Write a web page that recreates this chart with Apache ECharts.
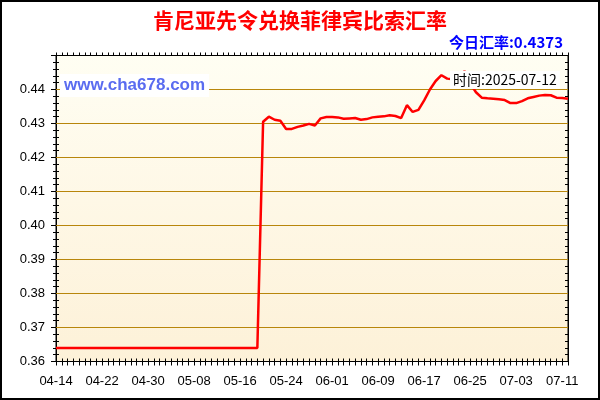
<!DOCTYPE html>
<html>
<head>
<meta charset="utf-8">
<script src="https://cdn.jsdelivr.net/npm/echarts@6.0.0/dist/echarts.min.js"></script>
<style>
    body { margin: 0; background: #fff; }
    #main { width: 600px; height: 400px; }
</style>
</head>
<body>
<div id="main"></div>
<script>
// 日期（04-14 ~ 07-12）
var days = [
    '04-14', '04-15', '04-16', '04-17', '04-18', '04-19', '04-20', '04-21', '04-22', '04-23',
    '04-24', '04-25', '04-26', '04-27', '04-28', '04-29', '04-30',
    '05-01', '05-02', '05-03', '05-04', '05-05', '05-06', '05-07', '05-08', '05-09', '05-10',
    '05-11', '05-12', '05-13', '05-14', '05-15', '05-16', '05-17', '05-18', '05-19', '05-20',
    '05-21', '05-22', '05-23', '05-24', '05-25', '05-26', '05-27', '05-28', '05-29', '05-30', '05-31',
    '06-01', '06-02', '06-03', '06-04', '06-05', '06-06', '06-07', '06-08', '06-09', '06-10',
    '06-11', '06-12', '06-13', '06-14', '06-15', '06-16', '06-17', '06-18', '06-19', '06-20',
    '06-21', '06-22', '06-23', '06-24', '06-25', '06-26', '06-27', '06-28', '06-29', '06-30',
    '07-01', '07-02', '07-03', '07-04', '07-05', '07-06', '07-07', '07-08', '07-09', '07-10',
    '07-11', '07-12'
];

// 汇率
var rates = [
    0.3640, 0.3640, 0.3640, 0.3640, 0.3640, 0.3640, 0.3640, 0.3640, 0.3640, 0.3640,
    0.3640, 0.3640, 0.3640, 0.3640, 0.3640, 0.3640, 0.3640,
    0.3640, 0.3640, 0.3640, 0.3640, 0.3640, 0.3640, 0.3640, 0.3640, 0.3640, 0.3640,
    0.3640, 0.3640, 0.3640, 0.3640, 0.3640, 0.3640, 0.3640, 0.3640, 0.3640, 0.4305,
    0.4320, 0.4311, 0.4308, 0.4284, 0.4284, 0.4290, 0.4294, 0.4299, 0.4294, 0.4315, 0.4319,
    0.4319, 0.4318, 0.4314, 0.4315, 0.4316, 0.4311, 0.4313, 0.4318, 0.4320, 0.4321,
    0.4324, 0.4322, 0.4316, 0.4354, 0.4334, 0.4340, 0.4368, 0.4400, 0.4425, 0.4442,
    0.4432, 0.4430, 0.4431, 0.4454, 0.4418, 0.4392, 0.4376, 0.4374, 0.4373, 0.4371,
    0.4369, 0.4360, 0.4360, 0.4366, 0.4374, 0.4378, 0.4382, 0.4384, 0.4383, 0.4376,
    0.4375, 0.4373
];

// 水平参考线
var gridValues = [0.37, 0.38, 0.39, 0.40, 0.41, 0.42, 0.43, 0.44];

var yMin = 0.36;
var yMax = 0.45;
var yStep = 0.01;

var chart = echarts.init(document.getElementById('main'));

var font = 'Arial, "Liberation Sans", sans-serif';
var cjk = '"Noto Sans CJK SC", sans-serif';

// 共用的 y 轴设置
function yAxisBase(pos, showLabel, inside, len) {
    return {
        type: 'value',
        position: pos,
        min: yMin,
        max: yMax,
        interval: yStep,
        axisLine: { show: true, lineStyle: { color: '#000', width: 1 } },
        axisTick: { show: true, inside: inside, length: len, lineStyle: { color: '#000' } },
        minorTick: { show: true, splitNumber: 5, length: 3, lineStyle: { color: '#000' } },
        splitLine: { show: false },
        axisLabel: {
            show: showLabel,
            color: '#000',
            fontSize: 13,
            fontFamily: font,
            margin: 11,
            formatter: function (v) {
                if (v > 0.445) return '';
                return v.toFixed(2);
            }
        }
    };
}

// 共用的 x 轴设置
function xAxisBase(pos, showLabel, inside, len) {
    return {
        type: 'category',
        position: pos,
        data: days,
        boundaryGap: false,
        axisLine: { show: true, lineStyle: { color: '#000', width: 1 } },
        axisTick: { show: true, inside: inside, interval: 0, length: len, lineStyle: { color: '#000' } },
        splitLine: { show: false },
        axisLabel: {
            show: showLabel,
            interval: 7,
            color: '#000',
            fontSize: 13,
            fontFamily: font,
            margin: 13
        }
    };
}

var option = {
    animation: false,
    backgroundColor: '#fff',
    title: [{
        text: '肯尼亚先令兑换菲律宾比索汇率',
        left: 'center',
        top: 10,
        padding: 0,
        textStyle: { color: '#ff0000', fontSize: 21, fontWeight: 'bold', fontFamily: cjk }
    }, {
        text: '今日汇率:0.4373',
        right: 37,
        top: 35,
        padding: 0,
        textStyle: { color: '#0000ff', fontSize: 15, fontWeight: 'bold', fontFamily: cjk }
    }, {
        text: 'www.cha678.com',
        left: 60,
        top: 74,
        padding: [3, 4],
        backgroundColor: '#fff',
        textStyle: { color: '#5a6cf0', fontSize: 17, fontWeight: 'bold', fontFamily: font }
    }, {
        text: '时间:2025-07-12',
        left: 450,
        top: 71,
        padding: [2, 3],
        backgroundColor: '#fff',
        textStyle: { color: '#000', fontSize: 14, fontWeight: 'normal', fontFamily: cjk }
    }],
    grid: {
        left: 56,
        right: 32,
        top: 55.5,
        bottom: 38.5,
        show: true,
        borderColor: '#000',
        borderWidth: 1,
        backgroundColor: new echarts.graphic.LinearGradient(0, 0, 0, 1, [
            { offset: 0, color: '#fffef3' },
            { offset: 1, color: '#fdf1d8' }
        ]),
        outerBoundsMode: 'none'
    },
    // 底部刻度上下交叉，顶部刻度朝外
    xAxis: [
        xAxisBase('bottom', true, false, 4),
        xAxisBase('bottom', false, true, 3),
        xAxisBase('top', false, false, 3)
    ],
    // 左侧刻度上下交叉，右侧刻度朝内
    yAxis: [
        yAxisBase('left', true, false, 5),
        yAxisBase('left', false, true, 3),
        yAxisBase('right', false, true, 5)
    ],
    series: [{
        name: '汇率',
        type: 'line',
        data: rates,
        xAxisIndex: 0,
        yAxisIndex: 0,
        symbol: 'none',
        lineStyle: { color: '#ff0000', width: 2.5 },
        z: 3,
        // 金色网格线
        markLine: {
            silent: true,
            symbol: ['none', 'none'],
            label: { show: false },
            emphasis: { disabled: true },
            lineStyle: { color: '#B8860B', width: 1, type: 'solid' },
            z: 1,
            data: gridValues.map(function (v) { return { yAxis: v }; })
        }
    }],
    graphic: [{
        type: 'rect',
        shape: { x: 1, y: 1, width: 598, height: 398 },
        style: { fill: 'none', stroke: '#000', lineWidth: 2 },
        silent: true
    }]
};

chart.setOption(option);
</script>
</body>
</html>
